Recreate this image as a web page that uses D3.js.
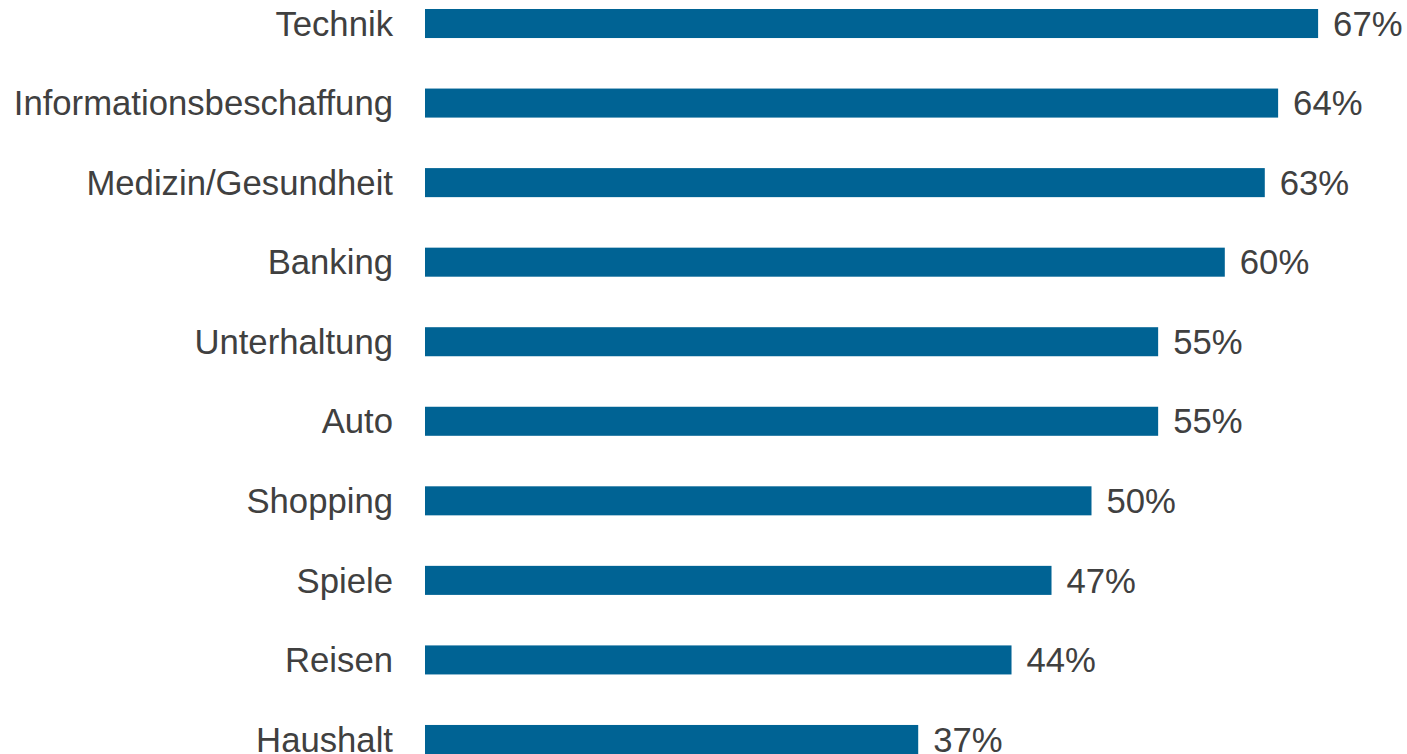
<!DOCTYPE html>
<html>
<head>
<meta charset="utf-8">
<script src="https://cdn.jsdelivr.net/npm/d3@7"></script>
<style>
  html, body { margin: 0; padding: 0; background: #ffffff; }
  svg { display: block; }
</style>
</head>
<body>
<svg id="chart" width="1407" height="754"></svg>
<script>
// Anwendungsbereiche und Anteile in Prozent
const categories = [
  "Technik", "Informationsbeschaffung", "Medizin/Gesundheit", "Banking",
  "Unterhaltung", "Auto", "Shopping", "Spiele", "Reisen", "Haushalt"
];
const values = [67, 64, 63, 60, 55, 55, 50, 47, 44, 37];

const svg = d3.select("#chart");
const barColor = "#006394";
const textColor = "#404040";
const fontFamily = "'Liberation Sans', Arial, sans-serif";
const fontSize = 34.7;

const x = d3.scaleLinear().domain([0, 100]).range([425, 1758]);
const y = d3.scaleBand()
  .domain(categories)
  .range([9, 754])
  .paddingInner(0.635)
  .paddingOuter(0);

const data = categories.map((c, i) => ({ cat: c, val: values[i] }));

// Balken
svg.append("g").selectAll("rect")
  .data(data)
  .join("rect")
  .attr("x", x(0))
  .attr("y", d => y(d.cat))
  .attr("width", d => x(d.val) - x(0))
  .attr("height", y.bandwidth())
  .attr("fill", barColor);

// Kategorienbeschriftung links
svg.append("g").selectAll("text")
  .data(data)
  .join("text")
  .attr("x", x(0) - 32)
  .attr("y", d => y(d.cat) + y.bandwidth() / 2)
  .attr("dy", "0.35em")
  .attr("text-anchor", "end")
  .attr("font-family", fontFamily)
  .attr("font-size", fontSize)
  .attr("fill", textColor)
  .text(d => d.cat);

// Wertbeschriftung rechts
svg.append("g").selectAll("text")
  .data(data)
  .join("text")
  .attr("x", d => x(d.val) + 15)
  .attr("y", d => y(d.cat) + y.bandwidth() / 2)
  .attr("dy", "0.35em")
  .attr("text-anchor", "start")
  .attr("font-family", fontFamily)
  .attr("font-size", fontSize)
  .attr("fill", textColor)
  .text(d => d.val + "%");
</script>
</body>
</html>
